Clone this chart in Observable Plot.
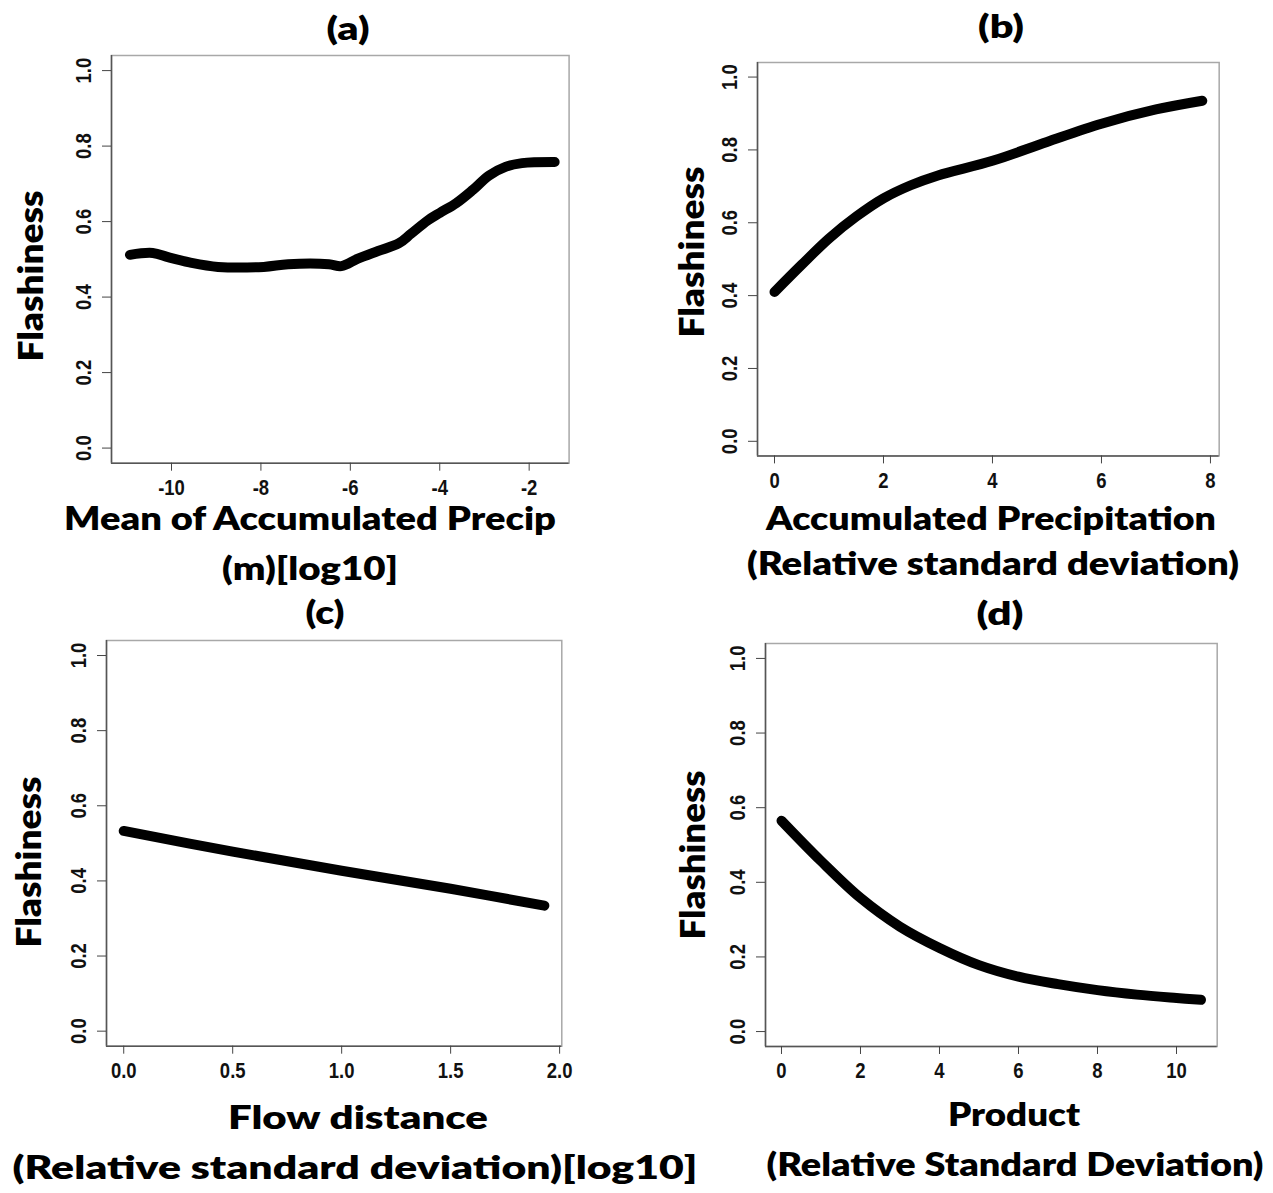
<!DOCTYPE html>
<html><head><meta charset="utf-8">
<script src="https://cdn.jsdelivr.net/npm/d3@7"></script>
<script src="https://cdn.jsdelivr.net/npm/@observablehq/plot@0.6"></script>
<style>
body{margin:0;background:#fff;}
#fig{position:relative;width:1273px;height:1193px;overflow:hidden;background:#fff;}
#fig svg text{font-size:22px !important;font-weight:bold !important;font-family:'Liberation Sans',Arial,Helvetica,sans-serif !important;}
.t{position:absolute;left:0;top:0;white-space:nowrap;font-family:Lato,"Open Sans",sans-serif;font-weight:800;color:#000;line-height:1;}
</style></head><body><div id="fig"></div><script>
// ---- data ----
const yTicks = [0, 0.2, 0.4, 0.6, 0.8, 1.0];
const yDomain = [-0.04, 1.04];

const aXTicks = [-10, -8, -6, -4, -2];
const aX = [-10.93,-10.42,-10.06,-9.60,-8.96,-7.94,-7.39,-6.48,-6.20,-5.83,-5.38,-4.92,-4.64,-4.27,-4.0,-3.63,-3.26,-2.90,-2.53,-2.16,-1.43];
const aY = [0.512,0.517,0.505,0.492,0.480,0.480,0.487,0.487,0.482,0.502,0.522,0.542,0.568,0.603,0.623,0.649,0.684,0.722,0.745,0.755,0.758];

const bXTicks = [0, 2, 4, 6, 8];
const bX = [0, 0.5, 1.0, 1.5, 2.0, 2.5, 3, 4, 5, 6, 7, 7.85];
const bY = [0.41, 0.485, 0.557, 0.617, 0.667, 0.703, 0.73, 0.77, 0.822, 0.872, 0.911, 0.935];

const cXTicks = [0, 0.5, 1.0, 1.5, 2.0];
const cX = [0, 0.5, 1.0, 1.5, 1.93];
const cY = [0.533, 0.478, 0.427, 0.379, 0.334];

const dXTicks = [0, 2, 4, 6, 8, 10];
const dX = [0, 1, 2, 3, 4, 5, 6, 7, 8, 9, 10, 10.62];
const dY = [0.565, 0.457, 0.358, 0.281, 0.224, 0.178, 0.147, 0.127, 0.111, 0.099, 0.090, 0.085];

const titles = ["(a)", "(b)", "(c)", "(d)"];
const yLabel = "Flashiness";
const xLabels = [
  ["Mean of Accumulated Precip", "(m)[log10]"],
  ["Accumulated Precipitation", "(Relative standard deviation)"],
  ["Flow distance", "(Relative standard deviation)[log10]"],
  ["Product", "(Relative Standard Deviation)"]
];

// ---- layout ----
const fig = document.getElementById("fig");
const tickFont = "'Liberation Sans', Arial, Helvetica, sans-serif";

function panel(cfg) {
  const [x0, x1, y0, y1] = cfg.frame;
  const fw = x1 - x0, fh = y1 - y0;
  const mL = 70, mR = 12, mT = 12, mB = 50;
  const data = cfg.xs.map((x, i) => ({x, y: cfg.ys[i]}));
  const svg = Plot.plot({
    width: fw + mL + mR, height: fh + mT + mB,
    marginLeft: mL, marginRight: mR, marginTop: mT, marginBottom: mB,
    x: {domain: cfg.xDomain},
    y: {domain: yDomain},
    style: {background: "transparent", overflow: "visible"},
    marks: [
      Plot.frame({stroke: "#a8a8a8", strokeWidth: 1.5}),
      Plot.ruleX([cfg.xDomain[0]], {stroke: "#555", strokeWidth: 1.5}),
      Plot.ruleY([yDomain[0]], {stroke: "#555", strokeWidth: 1.5}),
      Plot.axisX(cfg.xTicks, {tickSize: 8, tickPadding: 8, tickFormat: cfg.fmt, label: null,
        fontSize: 22, fontWeight: "bold", fontFamily: tickFont, stroke: "#444", fill: "#111"}),
      Plot.axisY(yTicks, {tickSize: 9, tickPadding: 12, tickRotate: -90, tickFormat: d3.format(".1f"), label: null,
        fontSize: 22, fontWeight: "bold", fontFamily: tickFont, stroke: "#444", fill: "#111"}),
      Plot.line(data, {x: "x", y: "y", stroke: "#000", strokeWidth: 10, strokeLinecap: "round",
        strokeLinejoin: "round", curve: "catmull-rom"})
    ]
  });
  // condense tick labels horizontally (along the reading direction)
  svg.querySelectorAll("text").forEach(t => {
    const tr = t.getAttribute("transform") || "";
    t.setAttribute("transform", tr + " scale(0.84,1)");
  });
  svg.style.position = "absolute";
  svg.style.left = (x0 - mL) + "px";
  svg.style.top = (y0 - mT) + "px";
  fig.appendChild(svg);
}

function label(text, cx, cy, size, width, rotate) {
  const d = document.createElement("div");
  d.className = "t";
  d.textContent = text;
  d.style.fontSize = size + "px";
  fig.appendChild(d);
  const w = d.getBoundingClientRect().width;
  const s = width / w;
  d.style.left = cx + "px";
  d.style.top = cy + "px";
  d.style.transform = `translate(-50%,-50%) ${rotate ? "rotate(-90deg) " : ""}scaleX(${s})`;
}

const intFmt = d => String(d);
panel({frame: [110.7, 568.3, 55, 462.7], xDomain: [-11.342, -1.107], xTicks: aXTicks, fmt: intFmt, xs: aX, ys: aY});
panel({frame: [757.3, 1219, 62.3, 455.7], xDomain: [-0.312, 8.16], xTicks: bXTicks, fmt: intFmt, xs: bX, ys: bY});
panel({frame: [106, 561.3, 640, 1045.7], xDomain: [-0.079, 2.010], xTicks: cXTicks, fmt: d3.format(".1f"), xs: cX, ys: cY});
panel({frame: [765, 1216.7, 643.3, 1046.3], xDomain: [-0.405, 11.03], xTicks: dXTicks, fmt: intFmt, xs: dX, ys: dY});

const S = 31.5;
label(titles[0], 348, 29, S, 43);
label(titles[1], 1000.6, 27, S, 46);
label(titles[2], 325, 613, S, 39);
label(titles[3], 1000, 614, S, 47);

label(yLabel, 30, 276, S + 3, 171, true);
label(yLabel, 691, 252, S + 3, 171, true);
label(yLabel, 28, 862, S + 3, 171, true);
label(yLabel, 692, 855, S + 3, 169, true);

label(xLabels[0][0], 310, 519, S, 492);
label(xLabels[0][1], 310, 569, S, 176);
label(xLabels[1][0], 991, 519, S, 450);
label(xLabels[1][1], 992.5, 564, S, 492);
label(xLabels[2][0], 358, 1118, S, 260);
label(xLabels[2][1], 354.5, 1168, S, 685);
label(xLabels[3][0], 1014, 1115, S, 132);
label(xLabels[3][1], 1014.5, 1165, S, 497);
</script></body></html>
